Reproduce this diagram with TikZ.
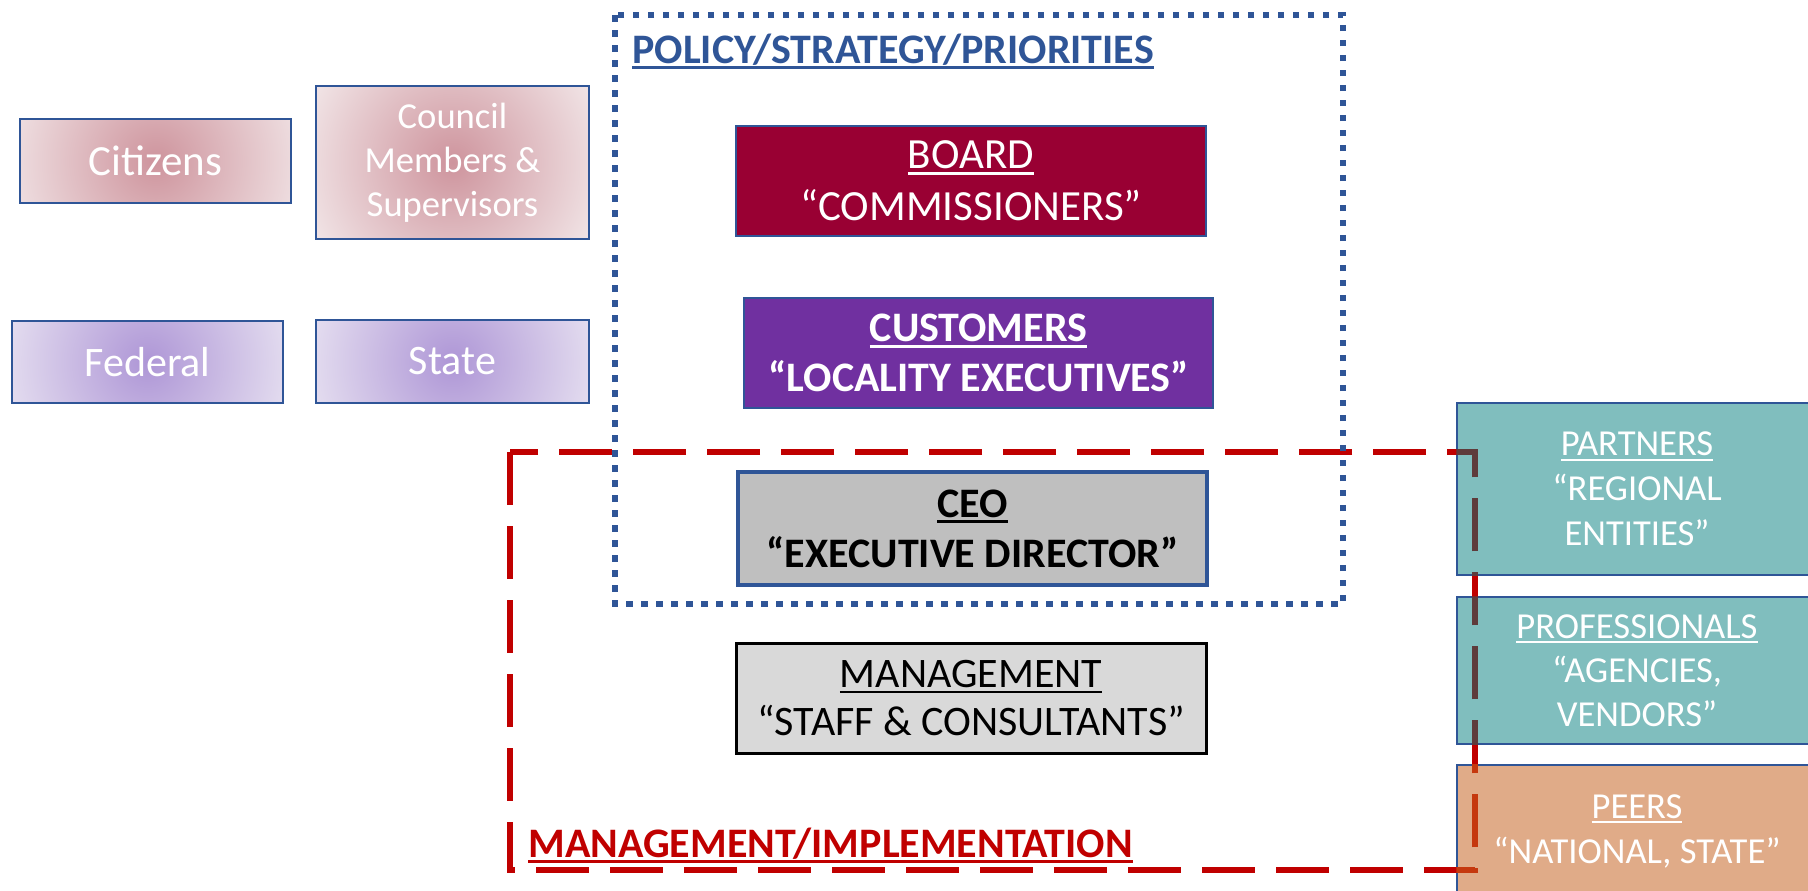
\documentclass[tikz,border=0pt]{standalone}
\usepackage{fontspec}
\setmainfont{Carlito}
\definecolor{bordblue}{HTML}{2F5597}
\definecolor{pinkC}{HTML}{CE949D}
\definecolor{pinkE}{HTML}{F0E2E4}
\definecolor{purpC}{HTML}{AE96D6}
\definecolor{purpE}{HTML}{E7E1F1}
\definecolor{boardred}{HTML}{990033}
\definecolor{custpurple}{HTML}{7030A0}
\definecolor{ceogray}{HTML}{BFBFBF}
\definecolor{mgmtgray}{HTML}{D9D9D9}
\definecolor{teal}{HTML}{80BEBE}
\definecolor{peersorange}{HTML}{E0AB88}
\definecolor{framered}{HTML}{C00000}
\definecolor{darkover}{HTML}{5E3B3B}
\definecolor{peersover}{HTML}{C5380E}
\newcommand\myul[1]{\leavevmode\setbox0\hbox{#1}\rlap{\rule[-0.14em]{\wd0}{0.06em}}\box0}
\tikzset{
  wh/.style 2 args={minimum width=#1*0.5pt, minimum height=#2*0.5pt},
  basebox/.style={draw=bordblue, line width=0.75pt, inner sep=0pt, align=center, text=white},
  softpink/.style={basebox, line width=1.25pt, fill=pinkE,
    path picture={\shade[inner color=pinkC, outer color=pinkE] (path picture bounding box.center) circle (76pt);}},
  softpurple/.style={basebox, line width=1.25pt, fill=purpE,
    path picture={\shade[inner color=purpC, outer color=purpE] (path picture bounding box.center) circle (76pt);}},
  reddash/.style={draw=framered, line width=3pt, dash pattern=on 26.5pt off 10.5pt},
  bluedot/.style={draw=bordblue, line width=2.75pt, dash pattern=on 3.25pt off 4.25pt},
}
\begin{document}
\begin{tikzpicture}[x=0.5pt,y=-0.5pt]
\useasboundingbox (0,0) rectangle (1808,890);
\clip (0,0) rectangle (1808,890);

% left stakeholder boxes
\node[softpink, wh={271}{84}, font=\fontsize{21.5}{26}\selectfont] (citizens) at (155.5,161) {Citizens};
\node[softpink, wh={273}{153}, font=\fontsize{18.3}{22}\selectfont] (council) at (452.5,162.5) {Council\\Members \&\\Supervisors};
\node[softpurple, wh={271}{82}, font=\fontsize{21}{26}\selectfont] (federal) at (147.5,362) {Federal};
\node[softpurple, wh={273}{83}, font=\fontsize{21}{26}\selectfont] (state) at (452.5,361.5) {State};

% central boxes
\node[basebox, fill=boardred, wh={470}{110}, font=\fontsize{21.5}{26}\selectfont] (board) at (971,181)
  {\myul{BOARD}\\“COMMISSIONERS”};
\node[basebox, fill=custpurple, wh={469}{110}, font=\fontsize{21}{25}\selectfont\bfseries] (customers) at (978.5,353)
  {\myul{CUSTOMERS}\\“LOCALITY EXECUTIVES”};
\node[basebox, fill=ceogray, line width=2pt, text=black, wh={469}{113}, font=\fontsize{21}{25}\selectfont\bfseries] (ceo) at (972.5,528.5)
  {\myul{CEO}\\“EXECUTIVE DIRECTOR”};
\node[basebox, draw=black, line width=1.5pt, fill=mgmtgray, text=black, wh={470}{110}, font=\fontsize{21}{24}\selectfont] (mgmt) at (971,698)
  {\myul{MANAGEMENT}\\“STAFF \& CONSULTANTS”};

% right boxes
\node[basebox, fill=teal, wh={360}{172}, font=\fontsize{18.3}{22.5}\selectfont] (partners) at (1637,489)
  {\myul{PARTNERS}\\“REGIONAL\\ENTITIES”};
\node[basebox, fill=teal, wh={360}{147}, font=\fontsize{18.3}{22}\selectfont] (prof) at (1637,670.5)
  {\myul{PROFESSIONALS}\\“AGENCIES,\\VENDORS”};
\node[basebox, fill=peersorange, wh={360}{132}, font=\fontsize{18.3}{22.5}\selectfont] (peers) at (1637,831)
  {\myul{PEERS}\\“NATIONAL, STATE”};

% region frames
\coordinate (rTL) at (510,452);
\coordinate (rBR) at (1475,870);
\coordinate (bTL) at (615,15);
\coordinate (bBR) at (1343,604);
\draw[reddash] (rTL) rectangle (rBR);
\begin{scope}
  \clip (partners.south west) rectangle (partners.north east)
        (prof.south west) rectangle (prof.north east);
  \draw[reddash, draw=darkover] (rTL) rectangle (rBR);
\end{scope}
\begin{scope}
  \clip (peers.south west) rectangle (peers.north east);
  \draw[reddash, draw=peersover] (rTL) rectangle (rBR);
\end{scope}
\draw[bluedot] (bTL) rectangle (bBR);

% region titles
\node[anchor=base west, inner sep=0pt, text=bordblue, font=\bfseries\fontsize{21}{25}\selectfont] (policy) at (632,63)
  {\myul{POLICY/STRATEGY/PRIORITIES}};
\node[anchor=base west, inner sep=0pt, text=framered, font=\bfseries\fontsize{21}{25}\selectfont] (mgmtlabel) at (528,857)
  {\myul{MANAGEMENT/IMPLEMENTATION}};
\end{tikzpicture}
\end{document}
